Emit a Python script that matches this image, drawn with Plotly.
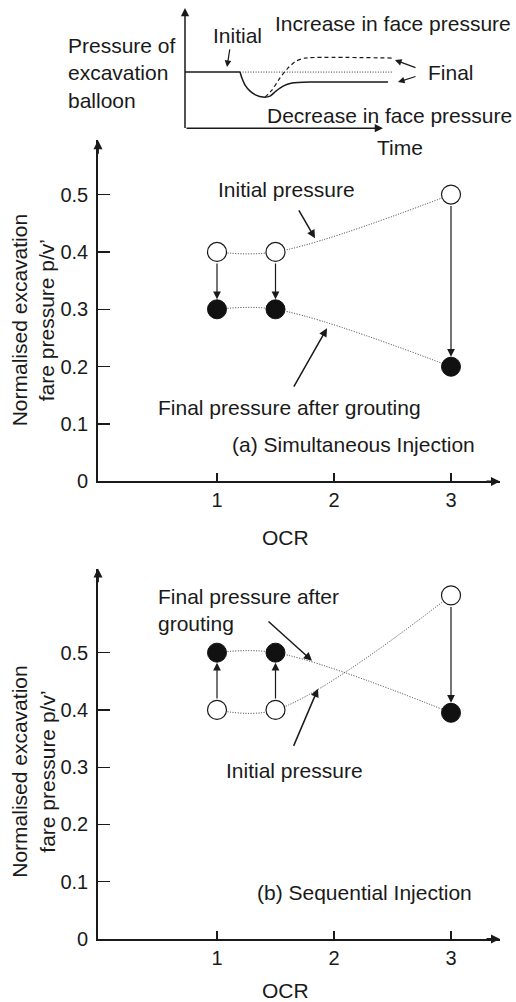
import plotly.graph_objects as go

# ---------------- data ----------------
ocr = [1, 1.5, 3]
a_initial = [0.4, 0.4, 0.5]
a_final = [0.3, 0.3, 0.2]
b_initial = [0.4, 0.4, 0.6]
b_final = [0.5, 0.5, 0.395]

y_tickvals = [0, 0.1, 0.2, 0.3, 0.4, 0.5]
y_ticktext = ["0", "0.1", "0.2", "0.3", "0.4", "0.5"]
x_tickvals = [1, 2, 3]
x_ticktext = ["1", "2", "3"]

# schematic inset (time vs balloon pressure)
inset_t_initial = [0, 2.62]
inset_p_initial = [2.8, 2.8]
inset_t_ref = [2.62, 9.9]
inset_p_ref = [2.8, 2.8]
inset_t_decrease = [2.62, 2.71, 2.86, 3.10, 3.38, 3.71, 4.05, 4.33, 4.67, 5.1, 5.95, 9.67]
inset_p_decrease = [2.8, 2.5, 2.15, 1.85, 1.65, 1.55, 1.6, 1.85, 2.1, 2.25, 2.3, 2.3]
inset_t_increase = [3.81, 4.14, 4.52, 4.9, 5.29, 5.71, 9.9]
inset_p_increase = [1.55, 1.9, 2.5, 3.0, 3.35, 3.5, 3.5]

W, H = 516, 1002          # reference layout grid
HF = 1014                 # rendered figure height
SY = HF / H
FONT = "Liberation Sans, Arial, sans-serif"
TXT = "#1a1a1a"
DOT = "1px,1.6px"


def px(x):
    return x / W


def py(y):
    return 1 - y / H


fig = go.Figure()

# ---------------- inset ----------------
fig.add_trace(go.Scatter(x=inset_t_initial, y=inset_p_initial, mode="lines",
                         line=dict(color=TXT, width=1.5), xaxis="x3", yaxis="y3"))
fig.add_trace(go.Scatter(x=inset_t_ref, y=inset_p_ref, mode="lines",
                         line=dict(color="#333", width=1, dash=DOT), xaxis="x3", yaxis="y3"))
fig.add_trace(go.Scatter(x=inset_t_decrease, y=inset_p_decrease, mode="lines",
                         line=dict(color=TXT, width=1.5, shape="spline", smoothing=0.6),
                         xaxis="x3", yaxis="y3"))
fig.add_trace(go.Scatter(x=inset_t_increase, y=inset_p_increase, mode="lines",
                         line=dict(color=TXT, width=1.2, dash="4px,3px", shape="spline", smoothing=0.6),
                         xaxis="x3", yaxis="y3"))

# ---------------- panels ----------------
def add_panel(xa, ya, yi, yf):
    fig.add_trace(go.Scatter(x=ocr, y=yi, mode="lines+markers", xaxis=xa, yaxis=ya,
                             line=dict(color="#333", width=1, dash=DOT, shape="spline", smoothing=1),
                             marker=dict(size=19, color="white", line=dict(color=TXT, width=1.2))))
    fig.add_trace(go.Scatter(x=ocr, y=yf, mode="lines+markers", xaxis=xa, yaxis=ya,
                             line=dict(color="#333", width=1, dash=DOT, shape="spline", smoothing=1),
                             marker=dict(size=19, color="#111", line=dict(color="#111", width=1))))


add_panel("x", "y", a_initial, a_final)
add_panel("x2", "y2", b_initial, b_final)

annotations = []

# vertical arrows from initial to final
for xa, ya, yi, yf in [("x", "y", a_initial, a_final), ("x2", "y2", b_initial, b_final)]:
    for xv, v0, v1 in zip(ocr, yi, yf):
        annotations.append(dict(x=xv, y=v1, ax=xv, ay=v0, xref=xa, yref=ya, axref=xa, ayref=ya,
                                text="", showarrow=True, arrowhead=2, arrowsize=1.3, arrowwidth=1.2,
                                arrowcolor=TXT, standoff=10, startstandoff=10))


def label(text, x, y, size=21, xanchor="left", align="left", angle=0):
    annotations.append(dict(text=text, x=px(x), y=py(y), xref="paper", yref="paper",
                            xanchor=xanchor, yanchor="middle", showarrow=False, align=align,
                            textangle=angle, font=dict(family=FONT, size=size, color=TXT)))


def pointer(tail, tip, width=1.5, size=1.1, head=2):
    annotations.append(dict(x=px(tip[0]), y=py(tip[1]), xref="paper", yref="paper",
                            ax=tail[0] - tip[0], ay=(tail[1] - tip[1]) * SY, text="", showarrow=True,
                            arrowhead=head, arrowsize=size, arrowwidth=width, arrowcolor=TXT))


# inset texts
label("Pressure of<br>excavation<br>balloon", 66, 73)
label("Initial", 211, 35)
pointer((230, 48), (227, 67), width=1.2)
label("Increase in face pressure", 273, 23)
label("Final", 426, 72)
pointer((417, 68), (395, 60), width=1.2)
pointer((417, 76), (398, 82), width=1.2)
label("Decrease in face pressure", 265, 115)
label("Time", 375, 147)
# inset axes
pointer((185, 128), (185, 8), width=1.5, size=1.1)
pointer((185, 128), (383, 128), width=1.5, size=1.1)

# panel a texts
label("Initial pressure", 216, 189)
pointer((298, 209), (315, 238))
label("Final pressure after grouting", 156, 407)
pointer((293, 387), (327, 328))
label("(a) Simultaneous Injection", 230, 444)
label("OCR", 285, 537, xanchor="center")
label("Normalised excavation<br>fare pressure p/v’", 33, 320, xanchor="center", align="center", angle=-90)
# axis arrowheads panel a
pointer((98, 155), (98, 140), width=1.8, size=1)
pointer((485, 481), (500, 481), width=1.8, size=1)

# panel b texts
label("Final pressure after<br>grouting", 156, 609)
pointer((267, 620), (312, 660))
label("Initial pressure", 224, 770)
pointer((293, 746), (318, 688))
label("(b) Sequential Injection", 255, 892)
label("OCR", 285, 990, xanchor="center")
label("Normalised excavation<br>fare pressure p/v’", 33, 771, xanchor="center", align="center", angle=-90)
pointer((98, 583), (98, 568), width=1.8, size=1)
pointer((485, 938), (500, 938), width=1.8, size=1)

xdom = [px(98), px(500)]
xrange = [-2 / 117, 400 / 117]
common_x = dict(range=xrange, domain=xdom, tickvals=x_tickvals, ticktext=x_ticktext,
                ticks="inside", ticklen=8, tickwidth=1.2, tickcolor=TXT,
                showline=True, linecolor=TXT, linewidth=1.8, showgrid=False, zeroline=False,
                tickfont=dict(family=FONT, size=20, color=TXT))
common_y = dict(tickvals=y_tickvals, ticktext=y_ticktext,
                ticks="inside", ticklen=12, tickwidth=1.2, tickcolor=TXT, ticklabelstandoff=4,
                showline=True, linecolor=TXT, linewidth=1.8, showgrid=False, zeroline=False,
                tickfont=dict(family=FONT, size=20, color=TXT))

fig.update_layout(
    width=W, height=HF, margin=dict(l=0, r=0, t=0, b=0),
    paper_bgcolor="white", plot_bgcolor="white", showlegend=False,
    xaxis=dict(**common_x, anchor="y"),
    yaxis=dict(**common_y, domain=[py(481), py(140)], range=[0, 341 / 573.3], anchor="x"),
    xaxis2=dict(**common_x, anchor="y2"),
    yaxis2=dict(**common_y, domain=[py(938), py(568)], range=[0, 370 / 572], anchor="x2"),
    xaxis3=dict(domain=[px(185), px(395)], range=[0, 10], visible=False, anchor="y3"),
    yaxis3=dict(domain=[py(128), py(8)], range=[0, 6], visible=False, anchor="x3"),
    annotations=annotations,
)

post = "document.body.style.margin='0';document.body.style.overflow='hidden';"
fig.write_html("out.html", config={"displayModeBar": False, "staticPlot": True},
               post_script=post)
